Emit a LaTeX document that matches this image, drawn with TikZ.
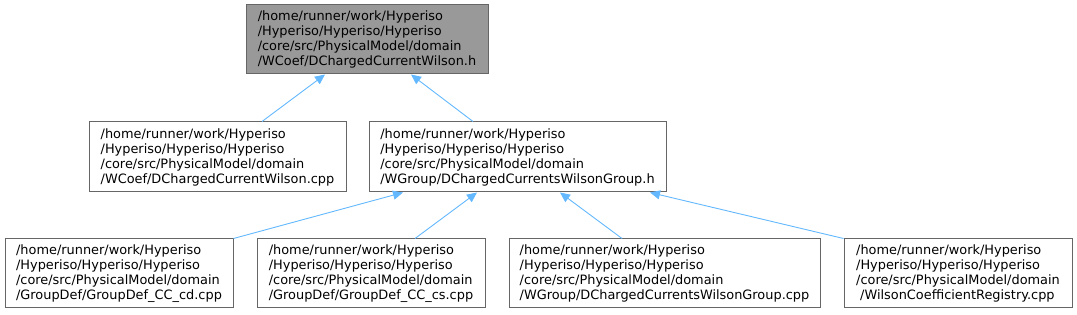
\documentclass[tikz,border=0pt]{standalone}
\usepackage{fontspec}
\setmainfont{DejaVu Sans}
\usetikzlibrary{arrows.meta}
\definecolor{edgeblue}{HTML}{63B8FF}
\definecolor{boxline}{HTML}{666666}
\definecolor{mainfill}{HTML}{999999}
\begin{document}
\begin{tikzpicture}[x=1pt,y=-1pt,
  filebox/.style={draw=boxline,line width=1pt,fill=white,inner sep=0pt,align=left,
    font=\fontsize{12.9}{15}\selectfont,anchor=center},
  mainbox/.style={filebox,fill=mainfill},
  edge/.style={draw=edgeblue,line width=0.9pt,-{Triangle[length=10pt,width=9pt]}}]
\useasboundingbox (0,0) rectangle (1077,315);
\node[mainbox,minimum width=242pt,minimum height=69pt] (top) at (367,39.5)
 {/home/runner/work/Hyperiso\\/Hyperiso/Hyperiso/Hyperiso\\/core/src/PhysicalModel/domain\\/WCoef/DChargedCurrentWilson.h};
\node[filebox,minimum width=257pt,minimum height=70pt] (midl) at (217.5,157)
 {/home/runner/work/Hyperiso\\/Hyperiso/Hyperiso/Hyperiso\\/core/src/PhysicalModel/domain\\/WCoef/DChargedCurrentWilson.cpp};
\node[filebox,minimum width=297pt,minimum height=70pt] (midr) at (517.5,157)
 {/home/runner/work/Hyperiso\\/Hyperiso/Hyperiso/Hyperiso\\/core/src/PhysicalModel/domain\\/WGroup/DChargedCurrentsWilsonGroup.h};
\node[filebox,minimum width=228pt,minimum height=69pt] (b1) at (119,273.5)
 {/home/runner/work/Hyperiso\\/Hyperiso/Hyperiso/Hyperiso\\/core/src/PhysicalModel/domain\\/GroupDef/GroupDef\_CC\_cd.cpp};
\node[filebox,minimum width=228pt,minimum height=69pt] (b2) at (371,273.5)
 {/home/runner/work/Hyperiso\\/Hyperiso/Hyperiso/Hyperiso\\/core/src/PhysicalModel/domain\\/GroupDef/GroupDef\_CC\_cs.cpp};
\node[filebox,minimum width=311pt,minimum height=69pt] (b3) at (664.5,273.5)
 {/home/runner/work/Hyperiso\\/Hyperiso/Hyperiso/Hyperiso\\/core/src/PhysicalModel/domain\\/WGroup/DChargedCurrentsWilsonGroup.cpp};
\node[filebox,minimum width=228pt,minimum height=69pt] (b4) at (958,273.5)
 {/home/runner/work/Hyperiso\\/Hyperiso/Hyperiso/Hyperiso\\/core/src/PhysicalModel/domain\\\hspace*{4pt}/WilsonCoefficientRegistry.cpp};
\draw[edge] ([xshift=44.5pt]midl.north) -- ([xshift=-42pt]top.south);
\draw[edge] ([xshift=-44.5pt]midr.north) -- ([xshift=44pt]top.south);
\draw[edge] (b1.north east) -- ([xshift=-114.5pt]midr.south);
\draw[edge] ([xshift=44pt]b2.north) -- ([xshift=-40.5pt]midr.south);
\draw[edge] ([xshift=-42.5pt]b3.north) -- ([xshift=42.5pt]midr.south);
\draw[edge] (b4.north west) -- ([xshift=132.5pt]midr.south);
\end{tikzpicture}
\end{document}
